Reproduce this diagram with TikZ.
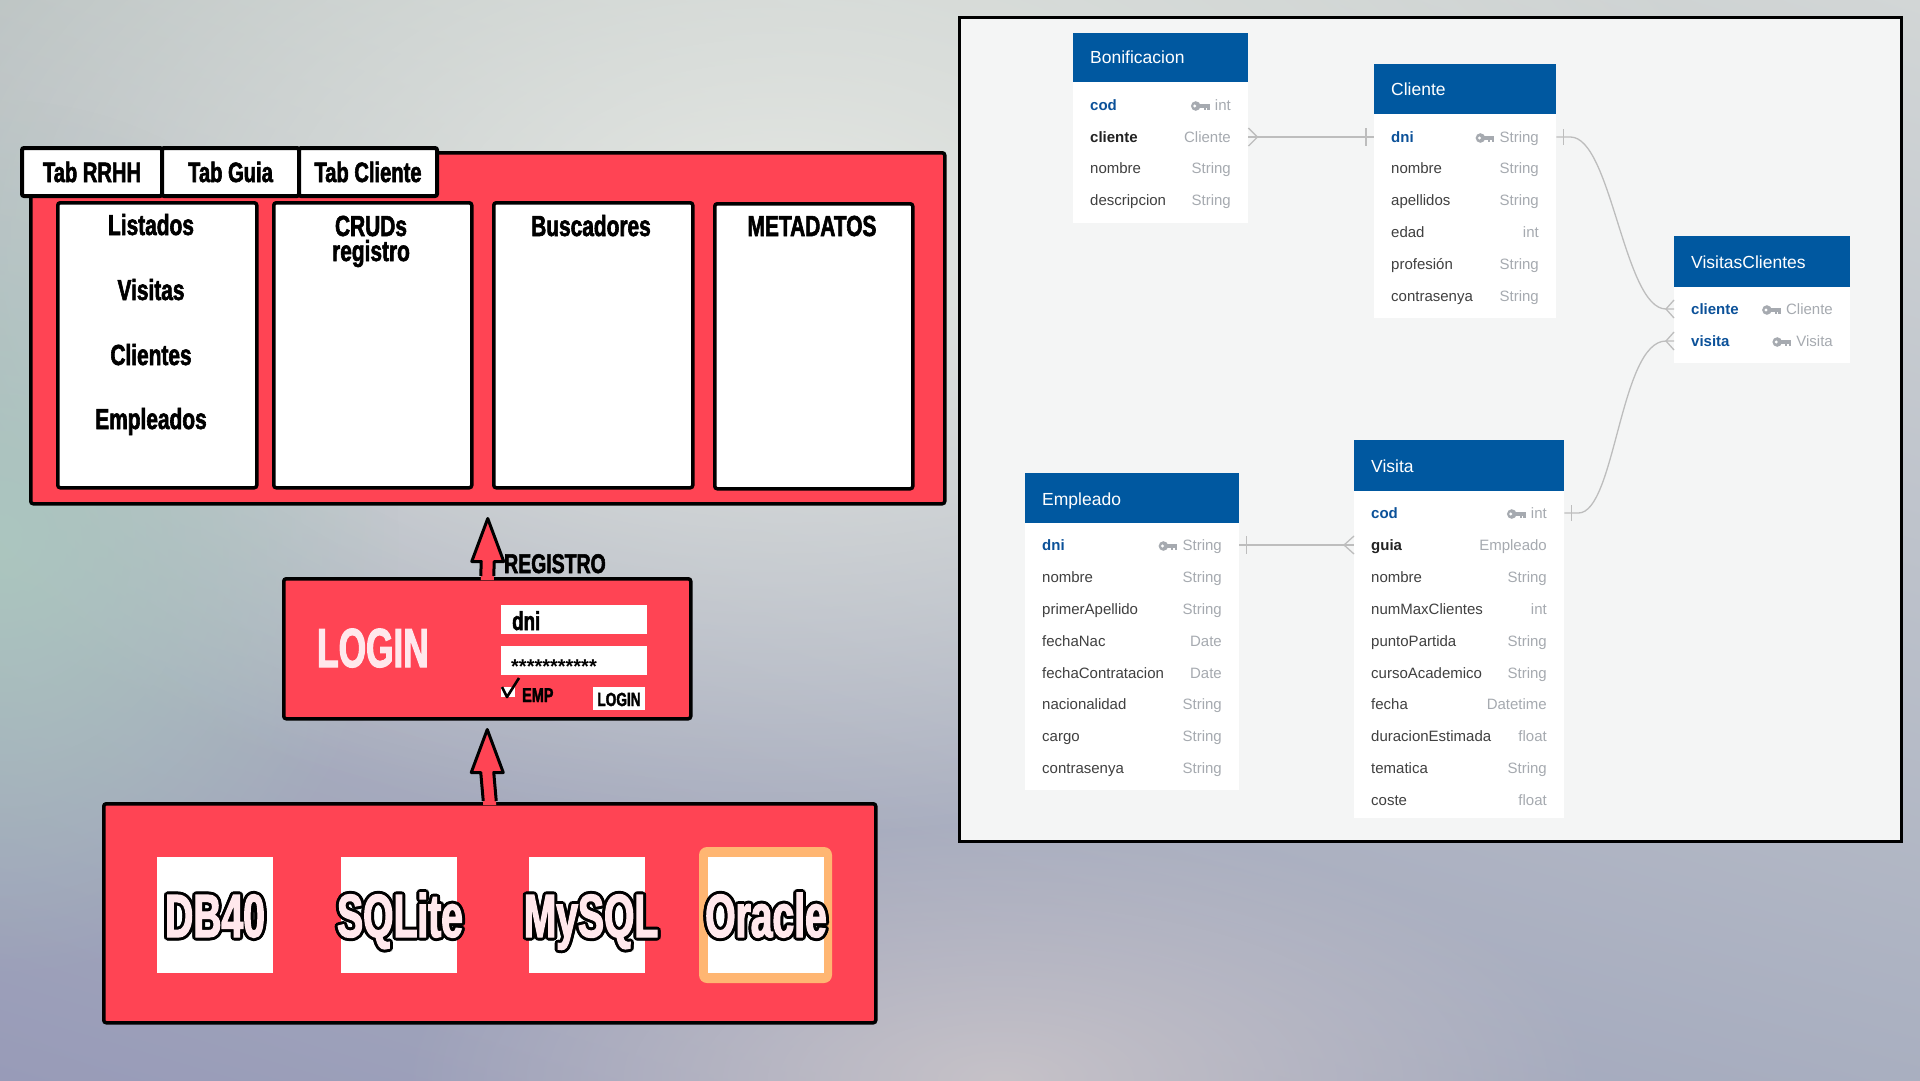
\documentclass[tikz,border=0pt]{standalone}
\usepackage{fontspec}
\setmainfont{Liberation Sans}
\newfontfamily\impf{Liberation Sans}[FakeStretch=0.72,FakeBold=2]
\newfontfamily\impn{Liberation Sans}[FakeStretch=0.64,FakeBold=2]
\newcommand{\imp}[1]{\impf\bfseries\fontsize{#1}{#1}\selectfont}
\newcommand{\impnar}[1]{\impn\bfseries\fontsize{#1}{#1}\selectfont}
\usepackage{contour}
\contourlength{3pt}
\contournumber{12}
\usetikzlibrary{calc,fadings,shadings}
\tikzfading[name=glowfade, inner color=transparent!0, outer color=transparent!100]

\definecolor{redp}{HTML}{FF4454}
\definecolor{pinkw}{HTML}{FFE8EC}
\definecolor{orng}{HTML}{FFB672}
\definecolor{hdrblue}{HTML}{0058A0}
\definecolor{keyblue}{HTML}{0B5199}
\definecolor{fgray}{HTML}{404040}
\definecolor{fdark}{HTML}{222222}
\definecolor{tgray}{HTML}{A6AAB0}
\definecolor{lnk}{HTML}{BDBDBD}
\definecolor{erbg}{HTML}{F4F5F5}
\definecolor{bgUL}{HTML}{B9C1C1}
\definecolor{bgUR}{HTML}{D2D6D6}
\definecolor{bgLL}{HTML}{989BB8}
\definecolor{bgLR}{HTML}{A9AFC0}
\definecolor{glowL}{HTML}{E5E8E3}
\definecolor{glowT}{HTML}{ABC6BF}
\definecolor{glowB}{HTML}{C6C2C8}

\tikzset{
 panel/.style={draw=black, line width=3.5pt, fill=redp, rounded corners=2.5pt, inner sep=0pt, anchor=north west},
 wbox/.style={draw=black, line width=3.5pt, fill=white, rounded corners=2.5pt, inner sep=0pt, anchor=north west},
 tabbox/.style={draw=black, line width=4pt, fill=white, rounded corners=2pt, inner sep=0pt, minimum height=48, font=\imp{28}},
 coltxt/.style={font=\imp{29}, anchor=base, inner sep=0pt},
 field/.style={fill=white, inner sep=0pt, anchor=north west},
 dbbox/.style={fill=white, inner sep=0pt, minimum width=116, minimum height=116},
 dbtxt/.style={font=\impnar{61}, text=pinkw, anchor=base, inner sep=0pt},
 hdr/.style={fill=hdrblue, inner sep=0pt, anchor=north west},
 body/.style={fill=white, inner sep=0pt, anchor=north west},
 hdrtxt/.style={text=white, font=\fontsize{17.5}{17.5}\selectfont, anchor=base west, inner sep=0pt},
 rowbox/.style={inner sep=0pt, minimum height=31},
 fname/.style={text=fgray, font=\fontsize{15}{15}\selectfont, inner sep=0pt},
 fkey/.style={text=keyblue, font=\fontsize{15}{15}\selectfont\bfseries, inner sep=0pt},
 fbold/.style={text=fdark, font=\fontsize{15}{15}\selectfont\bfseries, inner sep=0pt},
 ftype/.style={text=tgray, font=\fontsize{15}{15}\selectfont, inner sep=0pt},
 lnkline/.style={draw=lnk, line width=1.3pt},
}

\newcommand{\keyicon}[1]{\begin{scope}[shift={(#1.base west)}]
 \fill[tgray] (-19,-4.5) circle (4.8);
 \fill[white] (-20,-4.5) circle (1.6);
 \fill[tgray] (-16,-6.2) rectangle (-5,-3);
 \fill[tgray] (-11,-4) rectangle (-9,-0.5);
 \fill[tgray] (-7.5,-4) rectangle (-5,-0.5);
\end{scope}}

\newcommand{\errow}[8]{%
 \node[rowbox, minimum width={#3-#2}, anchor=west] (#1) at (#2,#4) {};
 \node[#7, anchor=base west] (#1-n) at ($(#2,#4)+(17,5.5)$) {#5};
 \node[ftype, anchor=base east] (#1-t) at ($(#3,#4)+(-17,5.5)$) {#6};
 \ifnum#8=1 \keyicon{#1-t}\fi}

\newcommand{\blockarrow}[2]{%
 \fill[redp] ($(#2)+(-6.5,3)$) -- ($(#1)+(-6.5,43)$) -- ($(#1)+(-16,43)$) -- (#1) -- ($(#1)+(16,43)$) -- ($(#1)+(6.5,43)$) -- ($(#2)+(6.5,3)$) -- cycle;
 \draw[line width=3pt, line join=round] ($(#2)+(-6.5,-1)$) -- ($(#1)+(-6.5,43)$) -- ($(#1)+(-16,43)$) -- (#1) -- ($(#1)+(16,43)$) -- ($(#1)+(6.5,43)$) -- ($(#2)+(6.5,-1)$);}

\begin{document}
\begin{tikzpicture}[x=1pt,y=-1pt]
\useasboundingbox (0,0) rectangle (1920,1080);
% background
\begin{scope}
\clip (0,0) rectangle (1920,1080);
\shade[upper left=bgUL, upper right=bgUR, lower left=bgLL, lower right=bgLR] (0,0) rectangle (1920,1080);
\fill[glowL, path fading=glowfade] (780,240) ellipse [x radius=1000, y radius=600];
\fill[glowT, path fading=glowfade] (0,540) ellipse [x radius=400, y radius=440];
\fill[glowB, path fading=glowfade] (1000,1080) ellipse [x radius=600, y radius=260];
\end{scope}

% ---------- top panel ----------
\node[panel, minimum width=914, minimum height=351] (top) at (29,151) {};
\node[tabbox, minimum width=140] (tab1) at (92,172) {Tab RRHH};
\node[tabbox, minimum width=137] (tab2) at (230.5,172) {Tab Guia};
\node[tabbox, minimum width=138] (tab3) at (368,172) {Tab Cliente};

\node[wbox, minimum width=199, minimum height=285] (col1) at (56,201) {};
\node[wbox, minimum width=198, minimum height=285] (col2) at (272,201) {};
\node[wbox, minimum width=199, minimum height=285] (col3) at (492,201) {};
\node[wbox, minimum width=198, minimum height=285] (col4) at (713,202) {};

\node[coltxt] (t-list) at (151,235) {Listados};
\node[coltxt] (t-vis) at (151,300) {Visitas};
\node[coltxt] (t-cli) at (151,365) {Clientes};
\node[coltxt] (t-emp) at (151,429) {Empleados};
\node[coltxt] (t-crud) at (371,236) {CRUDs};
\node[coltxt] (t-reg) at (371,261) {registro};
\node[coltxt] (t-bus) at (591,236) {Buscadores};
\node[coltxt] (t-meta) at (812,236) {METADATOS};

% ---------- login ----------
\node[panel, minimum width=407, minimum height=140] (login) at (282,577) {};
\node[font=\impnar{55}, text=pinkw, anchor=base west, inner sep=0pt] (logintxt) at (317,667) {LOGIN};
\node[field, minimum width=146, minimum height=29] (fdni) at (501,605) {};
\node[field, minimum width=146, minimum height=29] (fpass) at (501,646) {};
\node[font=\imp{26}, anchor=base west, inner sep=0pt] (dnitxt) at (512,630) {dni};
\node[font=\fontsize{20}{20}\selectfont\bfseries, anchor=base west, inner sep=0pt] (passtxt) at (511,673) {***********};
\node[field, minimum width=14, minimum height=10] (chk) at (501,687) {};
\draw[line width=2.6pt, line join=round] (502,687) -- (507,697) -- (519,678);
\node[font=\imp{20}, anchor=base west, inner sep=0pt] (emptxt) at (522,702) {EMP};
\node[field, minimum width=52, minimum height=23] (btn) at (593,687) {};
\node[font=\imp{19}, inner sep=0pt, anchor=base] (btntxt) at (619,706) {LOGIN};

% ---------- databases ----------
\node[panel, minimum width=772, minimum height=219] (dbp) at (102,802) {};
\node[dbbox] (db1) at (215,915) {};
\node[dbbox] (db2) at (399,915) {};
\node[dbbox] (db3) at (587,915) {};
\node[fill=orng, rounded corners=8pt, minimum width=133, minimum height=136, inner sep=0pt] (orasel) at (765.5,915) {};
\node[dbbox] (db4) at (766,915) {};
\node[dbtxt] (db1t) at (215,937) {\contour{black}{DB40}};
\node[dbtxt] (db2t) at (400,937) {\contour{black}{SQLite}};
\node[dbtxt] (db3t) at (591,937) {\contour{black}{MySQL}};
\node[dbtxt] (db4t) at (766,937) {\contour{black}{Oracle}};

% ---------- arrows ----------
\coordinate (a1tip) at ($(top.south)+(0,13)$);
\blockarrow{a1tip}{login.north}
\node[font=\imp{27}, anchor=base west, inner sep=0pt] (regtxt) at (504,573) {REGISTRO};
\coordinate (a2tip) at ($(login.south)+(0,9)$);
\blockarrow{a2tip}{dbp.north}

% ---------- ER diagram ----------
\node[draw=black, line width=3pt, fill=erbg, anchor=north west, minimum width=942, minimum height=824, inner sep=0pt] (er) at (958,16) {};

% Bonificacion
\node[hdr, minimum width=175, minimum height=49] (bon-h) at (1073,33) {};
\node[body, minimum width=175, minimum height=141] (bon-b) at (1073,82) {};
\node[hdrtxt] (bon-title) at (1090,63) {Bonificacion};
\errow{bon-cod}{1073}{1248}{105}{cod}{int}{fkey}{1}
\errow{bon-cliente}{1073}{1248}{137}{cliente}{Cliente}{fbold}{0}
\errow{bon-nombre}{1073}{1248}{168}{nombre}{String}{fname}{0}
\errow{bon-desc}{1073}{1248}{200}{descripcion}{String}{fname}{0}

% Cliente
\node[hdr, minimum width=182, minimum height=50] (cli-h) at (1374,64) {};
\node[body, minimum width=182, minimum height=204] (cli-b) at (1374,114) {};
\node[hdrtxt] (cli-title) at (1391,95) {Cliente};
\errow{cli-dni}{1374}{1556}{137}{dni}{String}{fkey}{1}
\errow{cli-nombre}{1374}{1556}{168}{nombre}{String}{fname}{0}
\errow{cli-ape}{1374}{1556}{200}{apellidos}{String}{fname}{0}
\errow{cli-edad}{1374}{1556}{232}{edad}{int}{fname}{0}
\errow{cli-prof}{1374}{1556}{264}{profesión}{String}{fname}{0}
\errow{cli-pass}{1374}{1556}{296}{contrasenya}{String}{fname}{0}

% VisitasClientes
\node[hdr, minimum width=176, minimum height=51] (vc-h) at (1674,236) {};
\node[body, minimum width=176, minimum height=76] (vc-b) at (1674,287) {};
\node[hdrtxt] (vc-title) at (1691,268) {VisitasClientes};
\errow{vc-cliente}{1674}{1850}{309}{cliente}{Cliente}{fkey}{1}
\errow{vc-visita}{1674}{1850}{341}{visita}{Visita}{fkey}{1}

% Empleado
\node[hdr, minimum width=214, minimum height=50] (emp-h) at (1025,473) {};
\node[body, minimum width=214, minimum height=267] (emp-b) at (1025,523) {};
\node[hdrtxt] (emp-title) at (1042,505) {Empleado};
\errow{emp-dni}{1025}{1239}{545}{dni}{String}{fkey}{1}
\errow{emp-nombre}{1025}{1239}{577}{nombre}{String}{fname}{0}
\errow{emp-ape}{1025}{1239}{609}{primerApellido}{String}{fname}{0}
\errow{emp-fnac}{1025}{1239}{641}{fechaNac}{Date}{fname}{0}
\errow{emp-fcon}{1025}{1239}{673}{fechaContratacion}{Date}{fname}{0}
\errow{emp-nac}{1025}{1239}{704}{nacionalidad}{String}{fname}{0}
\errow{emp-cargo}{1025}{1239}{736}{cargo}{String}{fname}{0}
\errow{emp-pass}{1025}{1239}{768}{contrasenya}{String}{fname}{0}

% Visita
\node[hdr, minimum width=210, minimum height=51] (vis-h) at (1354,440) {};
\node[body, minimum width=210, minimum height=327] (vis-b) at (1354,491) {};
\node[hdrtxt] (vis-title) at (1371,472) {Visita};
\errow{vis-cod}{1354}{1564}{513}{cod}{int}{fkey}{1}
\errow{vis-guia}{1354}{1564}{545}{guia}{Empleado}{fbold}{0}
\errow{vis-nombre}{1354}{1564}{577}{nombre}{String}{fname}{0}
\errow{vis-max}{1354}{1564}{609}{numMaxClientes}{int}{fname}{0}
\errow{vis-punto}{1354}{1564}{641}{puntoPartida}{String}{fname}{0}
\errow{vis-curso}{1354}{1564}{673}{cursoAcademico}{String}{fname}{0}
\errow{vis-fecha}{1354}{1564}{704}{fecha}{Datetime}{fname}{0}
\errow{vis-dur}{1354}{1564}{736}{duracionEstimada}{float}{fname}{0}
\errow{vis-tem}{1354}{1564}{768}{tematica}{String}{fname}{0}
\errow{vis-coste}{1354}{1564}{800}{coste}{float}{fname}{0}

% connectors
% Bonificacion.cliente -> Cliente.dni
\draw[lnkline] (bon-cliente.east) -- (cli-dni.west);
\draw[lnkline] ($(bon-cliente.east)+(0,-9)$) -- ($(bon-cliente.east)+(9,0)$) -- ($(bon-cliente.east)+(0,9)$);
\draw[lnkline] ($(cli-dni.west)+(-8,-9)$) -- ($(cli-dni.west)+(-8,9)$);
% Cliente.dni -> VisitasClientes.cliente
\draw[lnkline] (cli-dni.east) -- ($(cli-dni.east)+(14,0)$) .. controls ($(cli-dni.east)+(55,0)$) and ($(vc-cliente.west)+(-50,0)$) .. ($(vc-cliente.west)+(-8,0)$) -- (vc-cliente.west);
\draw[lnkline] ($(cli-dni.east)+(7,-8)$) -- ($(cli-dni.east)+(7,8)$);
\draw[lnkline] ($(vc-cliente.west)+(0,-9)$) -- ($(vc-cliente.west)+(-8,0)$) -- ($(vc-cliente.west)+(0,9)$);
% Visita.cod -> VisitasClientes.visita
\draw[lnkline] (vis-cod.east) -- ($(vis-cod.east)+(14,0)$) .. controls ($(vis-cod.east)+(51,0)$) and ($(vc-visita.west)+(-54,0)$) .. ($(vc-visita.west)+(-8,0)$) -- (vc-visita.west);
\draw[lnkline] ($(vis-cod.east)+(7,-8)$) -- ($(vis-cod.east)+(7,8)$);
\draw[lnkline] ($(vc-visita.west)+(0,-9)$) -- ($(vc-visita.west)+(-8,0)$) -- ($(vc-visita.west)+(0,9)$);
% Empleado.dni -> Visita.guia
\draw[lnkline] (emp-dni.east) -- (vis-guia.west);
\draw[lnkline] ($(emp-dni.east)+(7,-9)$) -- ($(emp-dni.east)+(7,9)$);
\draw[lnkline] ($(vis-guia.west)+(0,-9)$) -- ($(vis-guia.west)+(-10,0)$) -- ($(vis-guia.west)+(0,9)$);
\end{tikzpicture}
\end{document}
